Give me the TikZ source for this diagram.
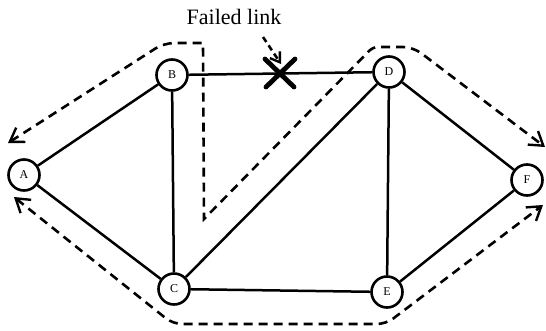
\documentclass[tikz,border=0pt]{standalone}
\usepackage{fontspec}
\setmainfont{Liberation Serif}
\usetikzlibrary{arrows.meta,calc}
\begin{document}
\begin{tikzpicture}[x=1pt,y=-1pt,
  router/.style={circle,draw,line width=2.6pt,minimum size=31pt,inner sep=0pt,
    font=\fontsize{12}{12}\selectfont},
  link/.style={line width=2.5pt},
  reroute/.style={line width=2.6pt,dash pattern=on 9pt off 6pt,
    {Straight Barb[length=13pt,width=17pt,line width=2.4pt]}-{Straight Barb[length=13pt,width=17pt,line width=2.4pt]}},
  cross/.style={line width=4.8pt,line cap=round},
]
\useasboundingbox (0,0) rectangle (546,330);

% routers
\node[router] (A) at (24,175) {A};
\node[router] (B) at (172,75) {B};
\node[router] (C) at (174,289) {C};
\node[router] (D) at (389,72) {D};
\node[router] (E) at (387,292) {E};
\node[router] (F) at (527,180) {F};

% links
\draw[link] (A) -- (B);
\draw[link] (A) -- (C);
\draw[link] (B) -- (C);
\draw[link] (B) -- (D);
\draw[link] (C) -- (D);
\draw[link] (D) -- (E);
\draw[link] (D) -- (F);
\draw[link] (C) -- (E);
\draw[link] (E) -- (F);

% broken link marker
\coordinate (fail) at (280,73);
\draw[cross] ($(fail)+(-15,-14)$) -- ($(fail)+(14,14)$);
\draw[cross] ($(fail)+(15,-14)$) -- ($(fail)+(-14,14)$);
\node[font=\fontsize{22}{22}\selectfont] (label) at (234,17) {Failed link};
\coordinate (hintS) at (263,37);
\coordinate (hintE) at (281,64);
\draw[line width=2.5pt,dash pattern=on 6pt off 4pt,
  -{Straight Barb[length=9pt,width=12pt,line width=2.3pt]}] (hintS) -- (hintE);

% rerouted traffic, upper path
\coordinate (u1) at (8,143);
\coordinate (u2) at (164,43);
\coordinate (u3) at (203,43);
\coordinate (u4) at (204,219);
\coordinate (u5) at (373,47);
\coordinate (u6) at (413,47);
\coordinate (u7) at (545,147);
\draw[reroute] (u1) [rounded corners=10pt] -- (u2) [sharp corners] -- (u3)
  -- (u4) [rounded corners=5pt] -- (u5) [rounded corners=10pt] -- (u6) -- (u7);

% rerouted traffic, lower path
\coordinate (l1) at (14,197);
\coordinate (l2) at (173,324);
\coordinate (l3) at (386,324);
\coordinate (l4) at (543,205);
\draw[reroute,rounded corners=9pt] (l1) -- (l2) -- (l3) -- (l4);
\end{tikzpicture}
\end{document}
